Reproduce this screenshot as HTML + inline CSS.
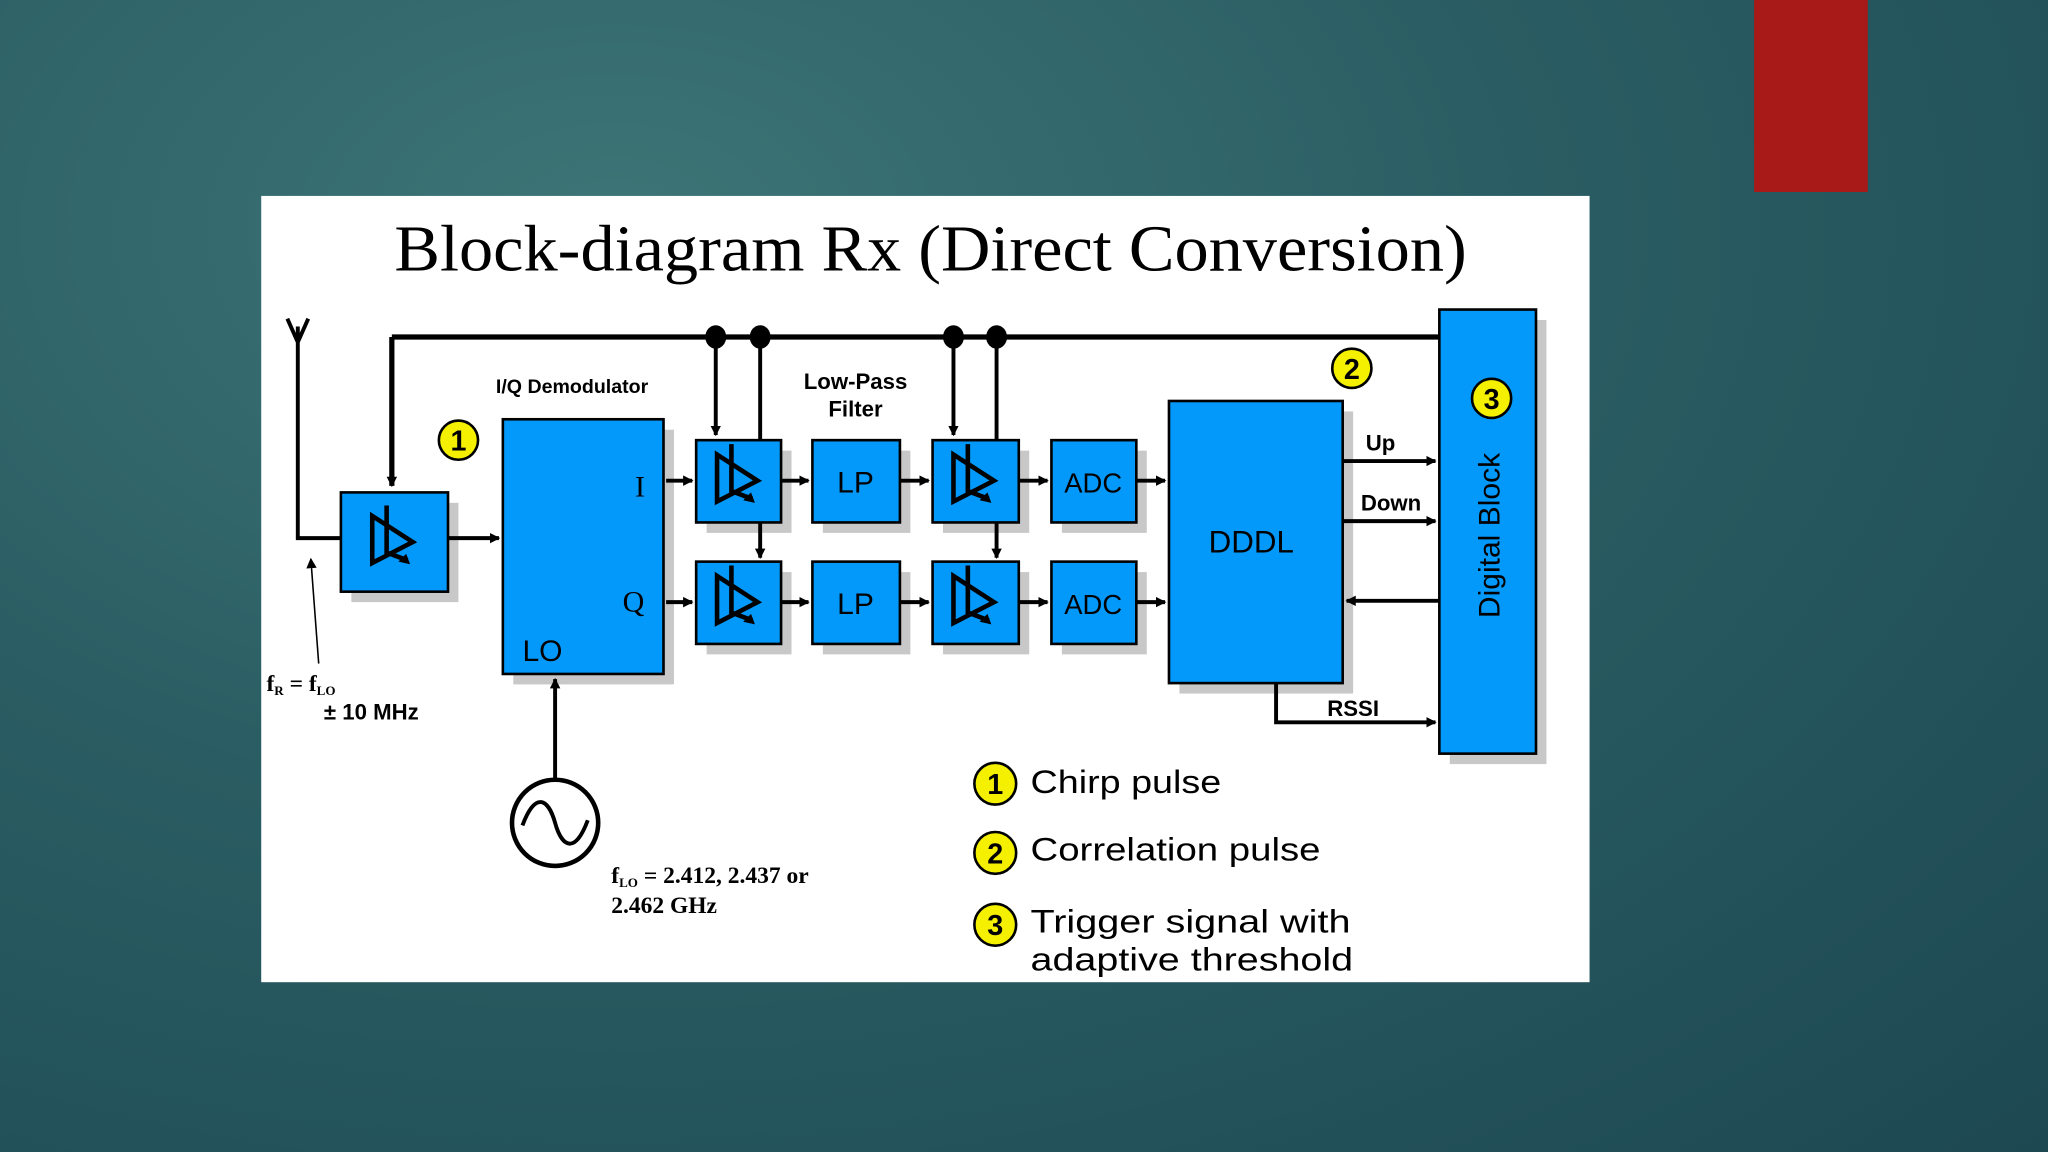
<!DOCTYPE html>
<html><head><meta charset="utf-8"><style>
html,body{margin:0;padding:0;width:2048px;height:1152px;overflow:hidden}
body{background:radial-gradient(ellipse at 30% 20%,#3d7577 0%,#2a5d63 45%,#1d4852 100%)}
svg{position:absolute;left:0;top:0}
</style></head><body>
<svg width="2048" height="1152" viewBox="0 0 1568 882" xmlns="http://www.w3.org/2000/svg">
<defs>
<marker id="a" markerWidth="8" markerHeight="8" refX="7" refY="4" orient="auto" markerUnits="userSpaceOnUse"><path d="M0,0 L8,4 L0,8 z" fill="#000"/></marker>
<g id="amp"><path d="M-17,-20 L-17,16 L14,0 z M-6,-28 L-6,8 L10,14" fill="none" stroke="#000" stroke-width="3.5"/><path d="M12,17 l-9,-2 l6,-6 z" fill="#000"/></g>
</defs>
<rect x="1343" y="0" width="87" height="147" fill="#a81a18"/>
<rect x="200" y="150" width="1017" height="602" fill="#fff"/>
<text x="302" y="207" textLength="821" lengthAdjust="spacingAndGlyphs" font-family="Liberation Serif,serif" font-size="50">Block-diagram Rx (Direct Conversion)</text>
<g fill="#c8c8c8">
<rect x="269" y="385" width="82" height="76"/><rect x="393" y="329" width="123" height="195"/>
<rect x="541" y="345" width="65" height="63"/><rect x="630" y="345" width="67" height="63"/><rect x="722" y="345" width="66" height="63"/><rect x="813" y="345" width="65" height="63"/>
<rect x="541" y="438" width="65" height="63"/><rect x="630" y="438" width="67" height="63"/><rect x="722" y="438" width="66" height="63"/><rect x="813" y="438" width="65" height="63"/>
<rect x="903" y="315" width="133" height="216"/><rect x="1110" y="245" width="74" height="340"/>
</g>
<g fill="#0399fb" stroke="#000" stroke-width="2">
<rect x="261" y="377" width="82" height="76"/><rect x="385" y="321" width="123" height="195"/>
<rect x="533" y="337" width="65" height="63"/><rect x="622" y="337" width="67" height="63"/><rect x="714" y="337" width="66" height="63"/><rect x="805" y="337" width="65" height="63"/>
<rect x="533" y="430" width="65" height="63"/><rect x="622" y="430" width="67" height="63"/><rect x="714" y="430" width="66" height="63"/><rect x="805" y="430" width="65" height="63"/>
<rect x="895" y="307" width="133" height="216"/><rect x="1102" y="237" width="74" height="340"/>
</g>
<use href="#amp" x="302" y="415"/><use href="#amp" x="566" y="368"/><use href="#amp" x="566" y="461"/><use href="#amp" x="747" y="368"/><use href="#amp" x="747" y="461"/>
<g stroke="#000" stroke-width="4" fill="none">
<path d="M300,258 L1102,258"/><path d="M300,258 L300,372" marker-end="url(#a)"/>
<path d="M228,250 L228,412 L261,412 M220,244 L228,262 L236,244" stroke-width="3"/>
<path d="M548,258 L548,333" stroke-width="3" marker-end="url(#a)"/><path d="M582,258 L582,337" stroke-width="3"/>
<path d="M730,258 L730,333" stroke-width="3" marker-end="url(#a)"/><path d="M763,258 L763,337" stroke-width="3"/>
<path d="M582,400 L582,427" stroke-width="3" marker-end="url(#a)"/><path d="M763,400 L763,427" stroke-width="3" marker-end="url(#a)"/>
<g stroke-width="3">
<path d="M343,412 L382,412" marker-end="url(#a)"/>
<path d="M510,368 L530,368" marker-end="url(#a)"/><path d="M598,368 L619,368" marker-end="url(#a)"/><path d="M689,368 L711,368" marker-end="url(#a)"/><path d="M780,368 L802,368" marker-end="url(#a)"/><path d="M870,368 L892,368" marker-end="url(#a)"/>
<path d="M510,461 L530,461" marker-end="url(#a)"/><path d="M598,461 L619,461" marker-end="url(#a)"/><path d="M689,461 L711,461" marker-end="url(#a)"/><path d="M780,461 L802,461" marker-end="url(#a)"/><path d="M870,461 L892,461" marker-end="url(#a)"/>
<path d="M1028,353 L1099,353" marker-end="url(#a)"/><path d="M1028,399 L1099,399" marker-end="url(#a)"/>
<path d="M1102,460 L1031,460" marker-end="url(#a)"/>
<path d="M977,523 L977,553 L1099,553" marker-end="url(#a)"/>
<path d="M425,597 L425,520" marker-end="url(#a)"/>
</g>
<path d="M244,508 L238,428" stroke-width="1.2" marker-end="url(#a)"/>
<circle cx="425" cy="630" r="33" stroke-width="3.5"/>
<path d="M400,632 C410,605 420,612 425,630 C430,648 440,655 450,628" stroke-width="3"/>
</g>
<g fill="#000"><ellipse cx="548" cy="258" rx="8" ry="9"/><ellipse cx="582" cy="258" rx="8" ry="9"/><ellipse cx="730" cy="258" rx="8" ry="9"/><ellipse cx="763" cy="258" rx="8" ry="9"/></g>
<g fill="#f5f000" stroke="#000" stroke-width="2">
<circle cx="351" cy="337" r="15"/><circle cx="1035" cy="282" r="15"/><circle cx="1142" cy="305" r="15"/>
<circle cx="762" cy="600" r="16"/><circle cx="762" cy="653" r="16"/><circle cx="762" cy="708" r="16"/>
</g>
<g font-family="Liberation Sans,sans-serif" font-weight="bold" font-size="22" text-anchor="middle">
<text x="351" y="345">1</text><text x="1035" y="290">2</text><text x="1142" y="313">3</text>
<text x="762" y="608">1</text><text x="762" y="661">2</text><text x="762" y="716">3</text>
</g>
<g font-family="Liberation Sans,sans-serif" font-size="23" fill="#000">
<text x="490" y="380" font-family="Liberation Serif,serif" text-anchor="middle">I</text>
<text x="485" y="468" font-family="Liberation Serif,serif" text-anchor="middle">Q</text>
<text x="400" y="506">LO</text>
<text x="655" y="377" text-anchor="middle">LP</text><text x="655" y="470" text-anchor="middle">LP</text>
<text x="837" y="377" text-anchor="middle" font-size="21">ADC</text><text x="837" y="470" text-anchor="middle" font-size="21">ADC</text>
<text x="958" y="423" text-anchor="middle" font-size="24">DDDL</text>
<text transform="translate(1148,410) rotate(-90)" text-anchor="middle" font-size="23">Digital Block</text>
</g>
<g font-family="Liberation Sans,sans-serif" font-weight="bold" font-size="17" fill="#000">
<text x="438" y="301" text-anchor="middle" font-size="15">I/Q Demodulator</text>
<text x="655" y="298" text-anchor="middle">Low-Pass</text><text x="655" y="319" text-anchor="middle">Filter</text>
<text x="1057" y="345" text-anchor="middle">Up</text><text x="1065" y="391" text-anchor="middle">Down</text>
<text x="1036" y="548" text-anchor="middle">RSSI</text>
<text x="248" y="551">± 10 MHz</text>
</g>
<g font-family="Liberation Serif,serif" font-weight="bold" font-size="18" fill="#000">
<text x="204" y="529">f<tspan font-size="10" dy="3">R</tspan><tspan dy="-3"> = f</tspan><tspan font-size="10" dy="3">LO</tspan></text>
<text x="468" y="676">f<tspan font-size="10" dy="3">LO</tspan><tspan dy="-3"> = 2.412, 2.437 or</tspan></text>
<text x="468" y="699">2.462 GHz</text>
</g>
<g font-family="Liberation Sans,sans-serif" font-size="25" fill="#000">
<text x="789" y="607" textLength="146" lengthAdjust="spacingAndGlyphs">Chirp pulse</text>
<text x="789" y="659" textLength="222" lengthAdjust="spacingAndGlyphs">Correlation pulse</text>
<text x="789" y="714" textLength="245" lengthAdjust="spacingAndGlyphs">Trigger signal with</text>
<text x="789" y="743" textLength="247" lengthAdjust="spacingAndGlyphs">adaptive threshold</text>
</g>
</svg>
</body></html>
